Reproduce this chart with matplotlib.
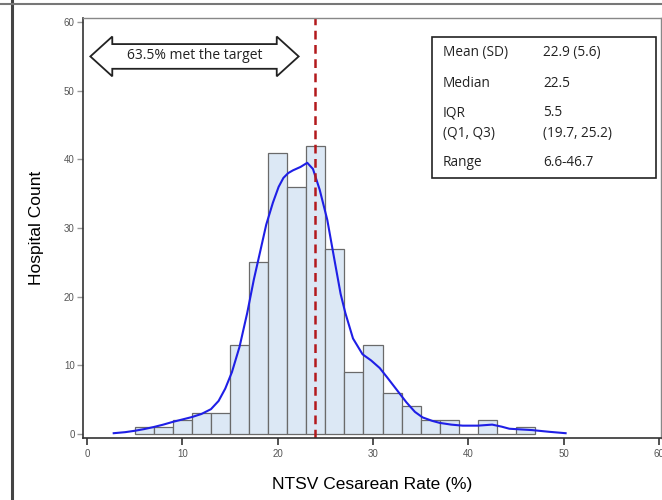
import matplotlib.pyplot as plt
from matplotlib.lines import Line2D
from matplotlib.patches import Polygon, Rectangle

# histogram of hospital NTSV cesarean rates (bin width 2, edges 5..47)
bin_edges = [5, 7, 9, 11, 13, 15, 17, 19, 21, 23, 25, 27, 29, 31, 33, 35, 37, 39, 41, 43, 45, 47]
counts = [1, 1, 2, 3, 3, 13, 25, 41, 36, 42, 27, 9, 13, 6, 4, 2, 2, 0, 2, 0, 1]

# density curve (scaled to counts)
kde_x = [2.8, 4, 5, 6, 7, 8, 9, 10, 11, 12, 13, 13.8, 14.5, 15.2, 16, 16.8, 17.5, 18.2,
         18.8, 19.5, 20.1, 20.6, 21.1, 21.6, 22.4, 23.1, 23.7, 24.4, 25.2, 26.0, 26.6, 27.1,
         27.9, 28.9, 29.8, 30.7, 31.5, 32.5, 33.5, 34.4, 35.2, 36.2, 37.0, 38.2, 39.4,
         41, 42.5, 43.5, 44.3, 45.5, 46.7, 48.5, 50.2]
kde_y = [0.1, 0.25, 0.45, 0.7, 1.0, 1.35, 1.75, 2.1, 2.45, 2.9, 3.6, 4.8, 6.6, 9.0, 12.7,
         17.6, 22.5, 26.8, 30.5, 33.7, 36.0, 37.3, 38.0, 38.4, 38.9, 39.5, 38.6, 35.6, 31.2, 25.0,
         20.4, 17.6, 13.9, 11.6, 10.7, 9.6, 8.2, 6.4, 4.6, 3.2, 2.4, 1.9, 1.6, 1.35, 1.2,
         1.2, 1.35, 1.05, 0.75, 0.65, 0.55, 0.3, 0.1]

target = 23.9
arrow_text = '63.5% met the target'
stat_names = ['Mean (SD)', 'Median', 'IQR\n(Q1, Q3)', 'Range']
stat_values = ['22.9 (5.6)', '22.5', '5.5\n(19.7, 25.2)', '6.6-46.7']

plt.rcParams['font.family'] = ['Liberation Sans', 'DejaVu Sans']
box_font = ['Open Sans', 'DejaVu Sans']

fig = plt.figure(figsize=(6.62, 5), dpi=100)
ax = fig.add_axes([0.1254, 0.124, 0.873, 0.84])

ax.hist(bin_edges[:-1], bins=bin_edges, weights=counts,
        color='#dce8f5', edgecolor='#6a6a6a', linewidth=0.9)
ax.plot(kde_x, kde_y, color='#1f1fe6', lw=1.5)
ax.axvline(target, color='#b3191c', lw=1.8, ls=(0, (3.5, 2.2)))

ax.set_xlim(-0.42, 60.2)
ax.set_ylim(-0.6, 60.6)
ax.set_xticks([0, 10, 20, 30, 40, 50, 60])
ax.set_yticks([0, 10, 20, 30, 40, 50, 60])
ax.tick_params(axis='both', labelsize=7, labelcolor='#555555', direction='out')
ax.tick_params(axis='x', length=5, width=1.2, color='#333333', pad=3)
ax.tick_params(axis='y', length=4, width=1, color='#999999', pad=2)
for s in ['left', 'bottom']:
    ax.spines[s].set_color('#333333')
    ax.spines[s].set_linewidth(1.2)
for s in ['top', 'right']:
    ax.spines[s].set_color('#888888')
    ax.spines[s].set_linewidth(1.0)

ax.set_xlabel('NTSV Cesarean Rate (%)', fontsize=12.5, labelpad=13)
ax.set_ylabel('Hospital Count', fontsize=12.5, labelpad=14)

# double-headed block arrow
x0, x1, yc = 0.35, 22.2, 55.0
head_len, head_h, body_h = 2.3, 2.9, 1.8
pts = [(x0, yc), (x0 + head_len, yc + head_h), (x0 + head_len, yc + body_h),
       (x1 - head_len, yc + body_h), (x1 - head_len, yc + head_h), (x1, yc),
       (x1 - head_len, yc - head_h), (x1 - head_len, yc - body_h),
       (x0 + head_len, yc - body_h), (x0 + head_len, yc - head_h)]
ax.add_patch(Polygon(pts, closed=True, fc='white', ec='#222222', lw=1.3, zorder=4))
ax.text((x0 + x1) / 2, yc + 0.1, arrow_text, ha='center', va='center', fontsize=10,
        family=box_font, color='#222222', zorder=5)

# summary statistics box
ax.add_patch(Rectangle((0.604, 0.619), 0.387, 0.336, transform=ax.transAxes,
                       fc='white', ec='#222222', lw=1.2, zorder=4))
row_y = [0.917, 0.845, 0.750, 0.655]
for name, val, ry in zip(stat_names, stat_values, row_y):
    ax.text(0.623, ry, name, transform=ax.transAxes, ha='left', va='center', fontsize=9.8,
            family=box_font, color='#222222', linespacing=1.5, zorder=5)
    ax.text(0.796, ry, val, transform=ax.transAxes, ha='left', va='center', fontsize=9.8,
            family=box_font, color='#222222', linespacing=1.5, zorder=5)

# frame lines of the original screenshot
fig.add_artist(Line2D([0.018, 0.018], [0, 1], transform=fig.transFigure, color='#444444', lw=2.2))
fig.add_artist(Line2D([0, 1], [0.993, 0.993], transform=fig.transFigure, color='#777777', lw=1.5))

fig.savefig('out.png', dpi=100)
